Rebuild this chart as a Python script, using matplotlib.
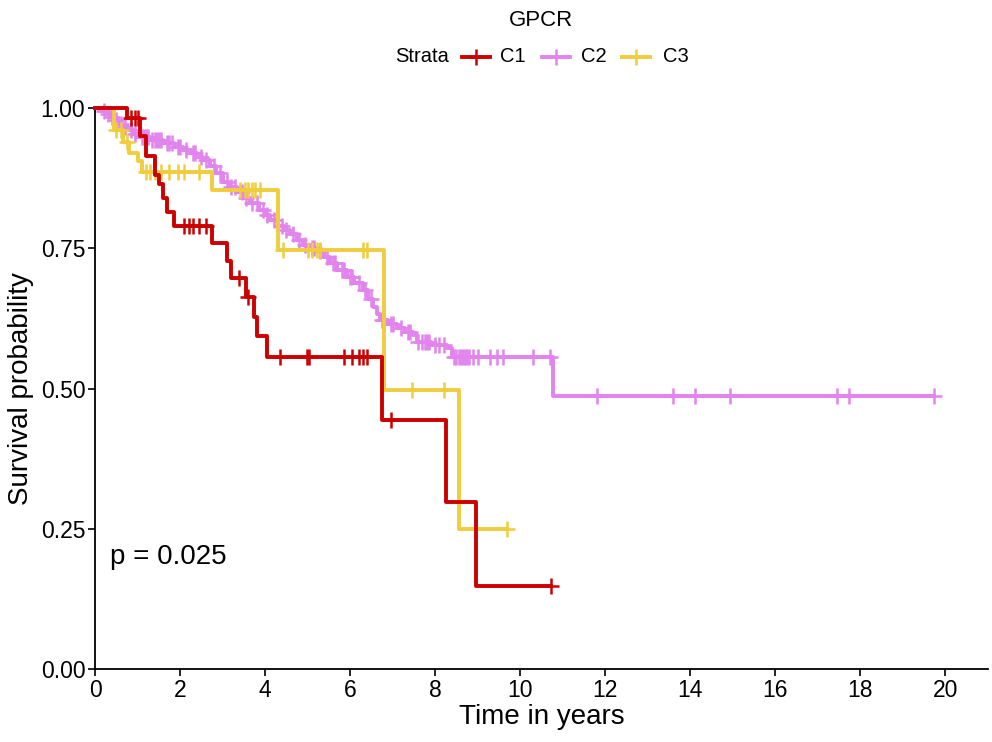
import numpy as np
import matplotlib
matplotlib.use("Agg")
import matplotlib.pyplot as plt
from matplotlib.lines import Line2D

plt.rcParams['font.family'] = ['Liberation Sans', 'DejaVu Sans']

strata = ["C1", "C2", "C3"]
colors = {"C1": "#CC0000", "C2": "#E283EE", "C3": "#F0CD3C"}

# step times and survival after each step
c1_times = [0.75, 1.05, 1.2, 1.4, 1.5, 1.6, 1.7, 1.85, 2.75, 3.1, 3.2, 3.55, 3.75, 3.8, 4.05, 6.75, 8.25, 8.95]
c1_surv = [0.983, 0.95, 0.915, 0.88, 0.865, 0.84, 0.815, 0.79, 0.759, 0.728, 0.697, 0.663, 0.627, 0.593, 0.556, 0.444, 0.297, 0.148]
c1_cens = [0.85, 0.95, 1.0, 2.1, 2.2, 2.3, 2.45, 2.6, 3.38, 3.6, 4.35, 4.98, 5.03, 5.85, 6.05, 6.2, 6.3, 6.4, 6.97, 10.73]

c2_times = [0.10, 0.25, 0.35, 0.45, 0.55, 0.66, 0.78, 0.90, 1.02, 1.30, 1.60, 1.85, 2.07, 2.25, 2.40, 2.54,
            2.70, 2.85, 3.01, 3.15, 3.34, 3.50, 3.65, 3.85, 4.00, 4.12, 4.30, 4.45, 4.59, 4.75, 4.90, 5.05,
            5.22, 5.38, 5.53, 5.70, 5.93, 6.10, 6.30, 6.42, 6.54, 6.62, 6.70, 6.90, 7.10, 7.30, 7.48, 7.58,
            7.90, 8.28, 8.40, 10.78]
c2_surv = [0.995, 0.990, 0.984, 0.978, 0.972, 0.966, 0.960, 0.954, 0.948, 0.943, 0.937, 0.931, 0.925, 0.919,
           0.913, 0.907, 0.897, 0.884, 0.868, 0.860, 0.850, 0.840, 0.830, 0.818, 0.810, 0.800, 0.790, 0.782,
           0.775, 0.765, 0.756, 0.750, 0.745, 0.735, 0.724, 0.712, 0.699, 0.688, 0.676, 0.660, 0.645, 0.633,
           0.622, 0.615, 0.608, 0.601, 0.595, 0.583, 0.578, 0.572, 0.556, 0.487]
c2_cens = [0.2, 0.3, 0.4, 0.5, 0.6, 0.7, 0.85, 0.95, 1.1, 1.15, 1.2, 1.25, 1.35, 1.4, 1.45, 1.5, 1.55, 1.7,
           1.75, 1.8, 1.95, 2.0, 2.15, 2.3, 2.35, 2.5, 2.6, 2.8, 2.95, 3.1, 3.2, 3.3, 3.45, 3.55, 3.7, 3.8,
           3.95, 4.05, 4.2, 4.4, 4.5, 4.65, 4.8, 4.95, 5.1, 5.15, 5.3, 5.45, 5.6, 5.65, 5.8, 5.85, 6.0, 6.05,
           6.2, 6.35, 6.5, 6.75, 6.8, 6.95, 7.0, 7.2, 7.35, 7.4, 7.6, 7.7, 7.75, 7.8, 7.85, 8.0, 8.1, 8.2,
           8.45, 8.5, 8.55, 8.6, 8.65, 8.7, 8.75, 8.8, 8.9, 9.0, 9.3, 9.45, 9.6, 10.3, 10.7,
           11.8, 13.6, 14.1, 14.94, 17.46, 17.74, 19.72]

c3_times = [0.45, 0.65, 0.8, 1.0, 1.1, 2.75, 4.3, 6.8, 8.55]
c3_surv = [0.96, 0.94, 0.92, 0.905, 0.886, 0.854, 0.747, 0.497, 0.249]
c3_cens = [0.5, 0.6, 0.75, 1.2, 1.3, 1.4, 1.55, 1.75, 1.95, 2.1, 2.45, 3.4, 3.53, 3.6, 3.7, 3.76, 3.88,
           4.42, 5.0, 5.1, 5.22, 5.3, 6.3, 6.4, 7.45, 8.2, 9.7]

series = {
    "C1": (c1_times, c1_surv, c1_cens),
    "C2": (c2_times, c2_surv, c2_cens),
    "C3": (c3_times, c3_surv, c3_cens),
}
p_text = "p = 0.025"
title = "GPCR"

fig = plt.figure(figsize=(9.92, 7.42), dpi=100)
ax = fig.add_axes([95/992, 1-669/742, (988-95)/992, (669-108)/742])

lw = 2.8
for name in ["C2", "C3", "C1"]:
    t, s, c = series[name]
    end = max(c + t)
    tt = [0.0] + list(t) + [end]
    ss = [1.0] + list(s) + [s[-1]]
    ax.step(tt, ss, where='post', color=colors[name], lw=lw, clip_on=False, zorder=3)
    ct = np.array(c)
    idx = np.searchsorted(np.array(t), ct, side='right') - 1
    cy = np.where(idx >= 0, np.array(s)[np.clip(idx, 0, None)], 1.0)
    ax.plot(ct, cy, ls='none', marker='+', ms=11, mew=1.8, color=colors[name], clip_on=False, zorder=3)

ax.set_xlim(0, 21)
ax.set_ylim(0, 1)
ax.set_xticks(np.arange(0, 21, 2))
ax.set_yticks([0, 0.25, 0.5, 0.75, 1.0])
ax.set_yticklabels(["0.00", "0.25", "0.50", "0.75", "1.00"])
for sp in ["top", "right"]:
    ax.spines[sp].set_visible(False)
for sp in ["left", "bottom"]:
    ax.spines[sp].set_linewidth(1.3)
ax.tick_params(axis='both', labelsize=16.5, length=5, width=1.2, colors='black', pad=2)
ax.set_xlabel("Time in years", fontsize=20, labelpad=2)
ax.set_ylabel("Survival probability", fontsize=20, labelpad=5)
ax.text(0.35, 0.2, p_text, fontsize=20, ha='left', va='center')

fig.text(541/992, 1-20/742, title, fontsize=16, ha='center', va='center')
ly = 1-57/742
fig.text(395/992, ly, "Strata", fontsize=14.5, ha='left', va='center')
pos = [(462, 500), (542, 581), (622, 663)]
for name, (lx, tx) in zip(strata, pos):
    fig.add_artist(Line2D([lx/992, (lx+28)/992], [ly, ly], color=colors[name], lw=2.8))
    fig.add_artist(Line2D([(lx+14)/992], [ly], marker='+', ms=11, mew=1.8, color=colors[name]))
    fig.text(tx/992, ly, name, fontsize=14.5, ha='left', va='center')

fig.savefig("out.png", dpi=100)
